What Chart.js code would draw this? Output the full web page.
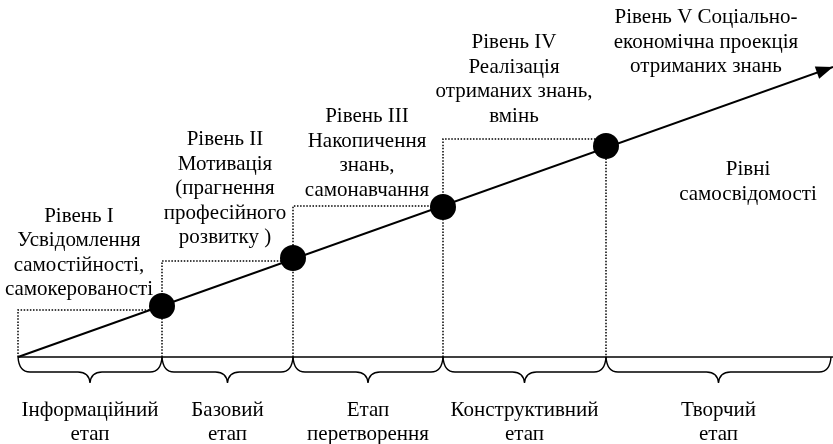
<!DOCTYPE html>
<html>
<head>
<meta charset="utf-8">
<script src="https://cdn.jsdelivr.net/npm/chart.js@4.4.1/dist/chart.umd.min.js"></script>
<style>
  html, body { margin: 0; padding: 0; background: #ffffff; }
  #wrap { width: 833px; height: 444px; }
</style>
</head>
<body>
<div id="wrap"><canvas id="c" width="833" height="444"></canvas></div>
<script>
// ---- data (diagram units: x along the stage axis, y = level of self-awareness) ----
const stageNames = [
  ["Інформаційний", "етап"],
  ["Базовий", "етап"],
  ["Етап", "перетворення"],
  ["Конструктивний", "етап"],
  ["Творчий", "етап"]
];
const stageBounds = [0, 144, 275, 425, 588, 815];
const levelX = [144, 275, 425, 588];
const levelY = [51, 99, 150, 211];
const guideY = [47, 96, 151, 218];
const trendX = [0, 815];
const trendY = [0, 290];
const levelTexts = [
  ["Рівень І", "Усвідомлення", "самостійності,", "самокерованості"],
  ["Рівень ІІ", "Мотивація", "(прагнення", "професійного", "розвитку )"],
  ["Рівень ІІІ", "Накопичення", "знань,", "самонавчання"],
  ["Рівень IV", "Реалізація", "отриманих знань,", "вмінь"],
  ["Рівень V Соціально-", "економічна проекція", "отриманих знань"]
];
const axisTitle = ["Рівні", "самосвідомості"];

// ---- layout (pixels) ----
const FONT = '21px "Liberation Serif", "Times New Roman", serif';
const LINE_H = 24.5;
const textLayout = [
  { cx: 79,  y: 221.5, clip: { 1: 140 } },
  { cx: 225, y: 145,   clip: { 3: 286 } },
  { cx: 367, y: 122 },
  { cx: 514, y: 48 },
  { cx: 706, y: 23 }
];
const titleLayout = { cx: 748, y: 175 };

// build datasets from the arrays
const trendData = trendX.map((x, i) => ({ x: x, y: trendY[i] }));
const dotData = levelX.map((x, i) => ({ x: x, y: levelY[i] }));
const guideData = [];
for (let i = 0; i < levelX.length; i++) {
  guideData.push({ x: stageBounds[i], y: 0 });
  guideData.push({ x: stageBounds[i], y: guideY[i] });
  guideData.push({ x: levelX[i], y: guideY[i] });
  guideData.push({ x: levelX[i], y: null });
}
guideData.push({ x: levelX[levelX.length - 1], y: levelY[levelY.length - 1] });
guideData.push({ x: levelX[levelX.length - 1], y: 0 });

const diagramPlugin = {
  id: 'diagram',
  afterDatasetsDraw(chart) {
    const ctx = chart.ctx;
    const xs = chart.scales.x, ys = chart.scales.y;
    const px = v => xs.getPixelForValue(v);
    const py = v => ys.getPixelForValue(v);
    ctx.save();
    ctx.strokeStyle = '#000';
    ctx.fillStyle = '#000';

    // arrow head at the end of the trend line
    const n = trendX.length;
    const x1 = px(trendX[n - 1]), y1 = py(trendY[n - 1]);
    const x0 = px(trendX[n - 2]), y0 = py(trendY[n - 2]);
    const ang = Math.atan2(y1 - y0, x1 - x0);
    const L = 17, W = 6.5;
    ctx.beginPath();
    ctx.moveTo(x1, y1);
    ctx.lineTo(x1 - L * Math.cos(ang) + W * Math.sin(ang), y1 - L * Math.sin(ang) - W * Math.cos(ang));
    ctx.lineTo(x1 - L * Math.cos(ang) - W * Math.sin(ang), y1 - L * Math.sin(ang) + W * Math.cos(ang));
    ctx.closePath();
    ctx.fill();

    // baseline
    const by = py(0);
    ctx.lineWidth = 1.6;
    ctx.beginPath();
    ctx.moveTo(px(stageBounds[0]), by);
    ctx.lineTo(chart.width, by);
    ctx.stroke();

    // braces under each stage
    ctx.lineWidth = 1.4;
    const drop = 15, tip = 26, r = 12;
    for (let i = 0; i < stageBounds.length - 1; i++) {
      const a = px(stageBounds[i]);
      const b = (i === stageBounds.length - 2) ? chart.width - 2 : px(stageBounds[i + 1]);
      const m = (a + b) / 2;
      ctx.beginPath();
      ctx.moveTo(a, by);
      ctx.quadraticCurveTo(a + 1, by + drop, a + r, by + drop);
      ctx.lineTo(m - r, by + drop);
      ctx.quadraticCurveTo(m - 1, by + drop, m, by + tip);
      ctx.quadraticCurveTo(m + 1, by + drop, m + r, by + drop);
      ctx.lineTo(b - r, by + drop);
      ctx.quadraticCurveTo(b - 1, by + drop, b, by);
      ctx.stroke();
    }

    // text
    ctx.font = FONT;
    ctx.textAlign = 'center';
    ctx.textBaseline = 'alphabetic';
    for (let i = 0; i < stageNames.length; i++) {
      const a = px(stageBounds[i]);
      const b = (i === stageBounds.length - 2) ? chart.width - 2 : px(stageBounds[i + 1]);
      const m = (a + b) / 2;
      ctx.fillText(stageNames[i][0], m, 416);
      ctx.fillText(stageNames[i][1], m, 440);
    }
    levelTexts.forEach((lines, i) => {
      const lay = textLayout[i];
      lines.forEach((t, j) => {
        const y = lay.y + j * LINE_H;
        if (lay.clip && lay.clip[j] !== undefined) {
          ctx.save();
          ctx.beginPath();
          ctx.rect(0, y - 30, lay.clip[j], 40);
          ctx.clip();
          ctx.fillText(t, lay.cx, y);
          ctx.restore();
        } else {
          ctx.fillText(t, lay.cx, y);
        }
      });
    });
    axisTitle.forEach((t, j) => ctx.fillText(t, titleLayout.cx, titleLayout.y + j * LINE_H));
    ctx.restore();
  }
};

new Chart(document.getElementById('c'), {
  type: 'scatter',
  data: {
    datasets: [
      { data: dotData, pointRadius: 13, pointBackgroundColor: '#000', pointBorderColor: '#000', pointBorderWidth: 0, showLine: false, order: 0, clip: false },
      { data: trendData, showLine: true, borderColor: '#000', borderWidth: 2, pointRadius: 0, order: 1, clip: false },
      { data: guideData, showLine: true, spanGaps: false, borderColor: '#000', borderWidth: 1.5, borderDash: [1.5, 1.6], pointRadius: 0, order: 2, clip: false }
    ]
  },
  options: {
    responsive: false,
    devicePixelRatio: 1,
    animation: false,
    events: [],
    layout: { padding: 0, autoPadding: false },
    plugins: { legend: { display: false }, tooltip: { enabled: false } },
    scales: {
      x: { type: 'linear', display: false, min: -18, max: 815 },
      y: { type: 'linear', display: false, min: -87, max: 357 }
    }
  },
  plugins: [diagramPlugin]
});
</script>
</body>
</html>
